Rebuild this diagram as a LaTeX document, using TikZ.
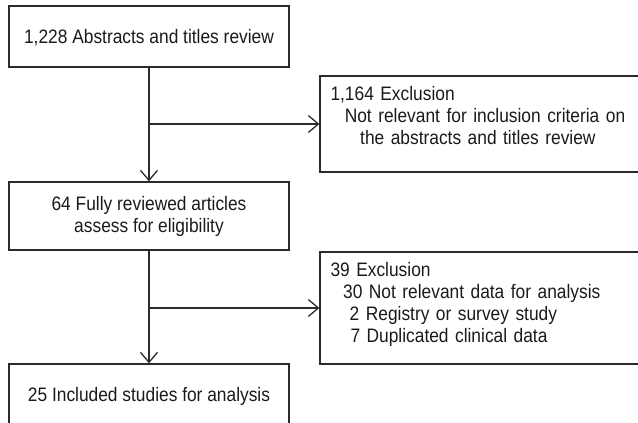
\documentclass[tikz,border=0pt]{standalone}
\usepackage{fontspec}
\setmainfont{Liberation Sans}[FakeStretch=0.89]
\usetikzlibrary{arrows.meta,positioning}
\definecolor{prLine}{HTML}{2B2B2B}
\definecolor{prText}{HTML}{1A1A1A}
\tikzset{
    prStep/.style={
        draw=prLine,
        line width=1.3pt,
        text=prText,
        font=\fontsize{19.5}{22}\selectfont,
        align=center,
        minimum width=280pt,
        inner sep=0pt
    },
    prExclusion/.style={
        draw=prLine,
        line width=1.3pt,
        text=prText,
        font=\fontsize{19.5}{22}\selectfont,
        align=left,
        minimum width=319.5pt,
        text width=298.5pt,
        inner xsep=10.5pt,
        inner ysep=0pt
    },
    prArrow/.style={-{Straight Barb[length=10pt,width=17pt]}, line width=1.3pt, prLine}
}

\begin{document}
\begin{tikzpicture}[x=1pt,y=-1pt]
    \useasboundingbox (0,0) rectangle (638,423);
    \clip (0,0) rectangle (638,423);

    % Main flow
    \node[prStep, minimum height=61pt, text depth=0pt] (abstracts) at (149,36.5) {1,228 Abstracts and titles review};
    \node[prStep, minimum height=68pt] (fulltext) at (149,216) {64 Fully reviewed articles\\assess for eligibility};
    \node[prStep, minimum height=60pt, text depth=0pt] (included) at (149,394) {25 Included studies for analysis};

    % Exclusion boxes
    \node[prExclusion, minimum height=96pt, text depth=60.2pt] (exclTitle) at (479.75,124) {1,164 Exclusion\\
        \hspace*{14.3pt}\mbox{Not relevant for inclusion criteria on}\\
        \hspace*{29.7pt}\mbox{the abstracts and titles review}};
    \node[prExclusion, minimum height=112pt, text depth=76.8pt] (exclFull) at (479.75,308) {39 Exclusion\\
        \hspace*{12.6pt}\mbox{30 Not relevant data for analysis}\\
        \hspace*{19.2pt}\mbox{2 Registry or survey study}\\
        \hspace*{20pt}\mbox{7 Duplicated clinical data}};

    % Arrows
    \draw[prArrow] (abstracts.south) -- (fulltext.north);
    \draw[prArrow] (abstracts.south |- exclTitle.west) -- (exclTitle.west);
    \draw[prArrow] (fulltext.south) -- (included.north);
    \draw[prArrow] (fulltext.south |- exclFull.west) -- (exclFull.west);
\end{tikzpicture}
\end{document}
